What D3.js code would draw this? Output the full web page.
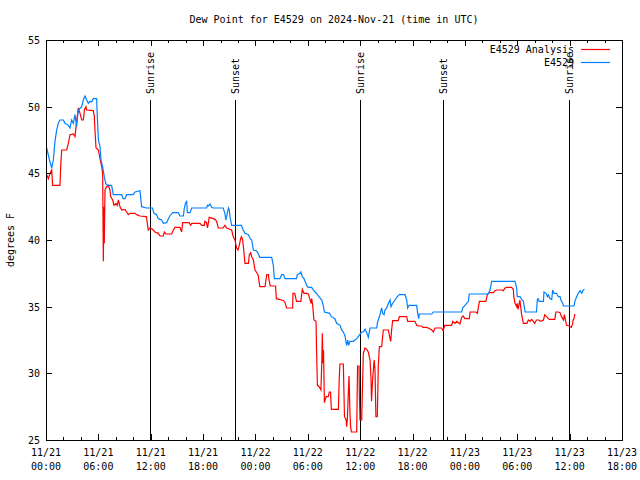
<!DOCTYPE html>
<html><head><meta charset="utf-8">
<script src="https://cdn.jsdelivr.net/npm/d3@7"></script>
<style>
body{margin:0;background:#fff;}
text{font-family:"DejaVu Sans Mono","Liberation Mono",monospace;font-size:10px;fill:#000;}
</style></head>
<body><svg id="chart" width="640" height="480"></svg>
<script>
// ---- data (hours since 2024-11-21 00:00 UTC, dew point °F) ----
const startTime = "2024-11-21T00:00:00Z";
const endTime = "2024-11-23T18:00:00Z";
const titleText = "Dew Point for E4529 on 2024-Nov-21 (time in UTC)";
const yLabel = "degrees F";
const seriesNames = ["E4529 Analysis", "E4529"];
const seriesColors = ["#ff0000", "#0080ff"];
const yTicks = [25, 30, 35, 40, 45, 50, 55];
const xTickHours = [0, 6, 12, 18, 24, 30, 36, 42, 48, 54, 60, 66];
const xTickLabels = [["11/21","00:00"],["11/21","06:00"],["11/21","12:00"],["11/21","18:00"],
  ["11/22","00:00"],["11/22","06:00"],["11/22","12:00"],["11/22","18:00"],
  ["11/23","00:00"],["11/23","06:00"],["11/23","12:00"],["11/23","18:00"]];
const xMinorHours = [2,4,8,10,14,16,20,22,26,28,32,34,38,40,44,46,50,52,56,58,62,64];
const sunEvents = ["Sunrise","Sunset","Sunrise","Sunset","Sunrise"];
const sunHours = [11.93, 21.6, 35.95, 45.53, 59.97];

const analysisHours = [0.08,0.27,0.46,0.65,0.76,1.6,1.68,1.8,2.37,2.56,2.75,3.13,3.32,3.51,3.7,3.9,4.09,4.28,4.4,4.58,4.66,5.42,5.54,5.61,5.73,6.0,6.19,6.38,6.49,6.57,6.65,6.68,6.76,6.95,7.14,7.33,7.41,7.64,7.79,8.02,8.17,8.29,8.48,8.67,9.05,9.24,9.43,9.63,10.2,10.39,10.77,11.5,11.72,11.9,12.2,12.49,12.87,13.06,13.44,13.56,13.75,14.4,14.59,14.78,15.35,15.54,15.66,16.4,16.58,16.7,17.65,17.84,18.14,18.2,18.4,18.5,18.6,18.7,19.17,19.36,19.55,19.74,20.3,20.5,20.7,21.27,21.46,21.65,21.84,22.0,22.15,22.3,22.4,22.53,22.68,22.8,23.2,23.3,23.45,23.57,23.76,23.95,24.1,24.3,24.5,25.1,25.2,25.3,25.48,25.55,25.7,26.3,26.4,27.0,27.2,27.4,27.56,28.26,28.3,28.5,28.7,29.2,29.37,29.56,29.87,30.06,30.25,30.37,30.44,30.56,30.7,30.94,31.0,31.1,31.3,31.5,31.6,31.66,31.74,31.8,31.9,32.1,32.35,32.46,32.6,32.7,33.5,33.6,33.68,34.07,34.2,34.4,34.45,34.53,34.64,34.72,34.83,34.9,35.0,35.6,35.7,35.87,35.9,35.98,36.17,36.36,36.55,36.75,36.93,37.04,37.13,37.24,37.3,37.43,37.6,37.7,37.8,37.96,38.08,38.2,38.46,38.65,39.23,39.42,39.5,39.6,39.72,40.37,40.49,41.33,41.44,42.28,42.47,42.66,43.04,43.2,43.6,43.8,44.2,44.38,44.57,45.33,45.5,45.7,46.48,46.6,46.86,47.05,47.43,47.63,47.8,48.0,48.5,48.6,49.27,49.43,49.55,49.66,50.4,50.57,50.8,51.26,51.45,51.64,52.2,52.4,52.6,52.8,53.35,53.55,53.6,53.74,53.93,54.0,54.1,54.3,54.5,54.7,55.1,55.27,55.46,55.65,55.84,56.0,56.2,56.5,56.66,57.0,57.15,57.35,57.56,57.67,58.3,58.43,58.7,58.9,59.07,59.3,59.4,59.55,59.66,59.97,60.2,60.35,60.4,60.5,60.6];
const analysisValues = [44.9,44.6,45.0,45.25,44.1,44.1,45.5,46.75,46.75,47.25,47.9,47.95,47.75,48.9,49.9,49.5,49.0,49.0,49.75,50.0,49.75,49.7,49.25,48.25,46.9,46.75,46.1,45.5,45.0,38.4,42.5,39.75,43.75,44.0,44.1,43.75,43.25,43.0,42.6,42.75,42.6,43.0,42.5,42.25,42.3,42.1,41.9,42.0,42.0,41.9,41.8,41.75,40.75,40.9,40.8,40.6,40.5,40.3,40.3,40.6,40.45,40.45,40.75,40.95,40.95,40.6,41.3,41.3,41.1,41.25,41.25,41.1,41.1,41.4,41.3,40.9,41.25,41.7,41.6,41.55,41.4,40.9,40.9,41.1,40.9,40.75,40.25,40.0,39.4,39.25,39.6,40.1,40.25,40.0,39.1,38.25,38.25,38.9,39.05,38.75,38.5,37.75,37.6,37.4,36.5,36.5,37.0,37.4,37.4,37.0,36.55,36.55,35.6,35.5,35.45,35.3,34.9,34.9,36.0,36.0,35.4,35.4,36.3,36.0,36.0,35.95,35.55,35.25,35.6,35.1,34.0,33.9,31.75,29.1,29.0,28.75,30.75,33.0,30.75,31.75,27.8,28.25,28.25,28.6,28.6,27.3,27.3,29.6,30.7,30.7,26.75,26.5,26.0,26.5,28.5,29.8,27.0,26.0,25.6,25.6,30.55,30.55,28.6,26.5,26.5,31.5,31.9,31.8,31.6,31.25,31.0,29.6,27.9,29.6,31.0,30.25,26.75,26.75,30.6,32.0,32.0,33.25,33.25,32.6,32.4,33.25,33.95,33.95,34.25,34.25,33.9,33.9,33.6,33.55,33.55,33.45,33.45,33.4,33.25,33.1,33.4,33.4,33.2,33.6,33.6,33.9,33.75,33.9,33.7,34.2,34.3,34.1,34.1,34.6,34.6,34.5,35.0,35.4,35.4,35.9,36.05,36.05,36.2,36.25,36.25,36.2,36.4,36.45,36.45,36.3,35.75,35.25,35.0,35.25,34.8,35.5,34.4,33.75,33.75,34.0,33.9,34.05,33.9,33.75,34.0,34.0,33.9,34.0,34.4,34.25,34.1,34.05,34.05,34.6,34.6,34.55,34.25,34.0,34.4,33.9,33.6,33.55,33.45,33.75,34.0,34.1,34.45];

const obsHours = [0.08,0.4,0.65,0.84,1.03,1.22,1.41,1.6,1.99,2.18,2.56,2.75,2.94,3.13,3.32,3.51,3.7,4.09,4.28,4.47,4.66,4.85,5.04,5.23,5.42,5.8,5.88,6.0,6.19,6.3,6.49,6.68,6.84,7.07,7.52,7.71,8.67,8.86,9.05,9.24,10.0,10.2,10.77,10.96,11.5,11.92,12.2,12.37,12.68,12.87,13.25,13.44,13.83,14.02,14.2,14.5,15.16,15.35,15.74,15.85,16.0,16.12,16.2,16.5,16.7,18.4,18.5,18.6,18.8,18.98,19.17,20.3,20.5,20.6,20.7,20.8,20.9,21.0,21.08,21.27,22.4,22.6,22.8,23.2,23.4,23.57,23.76,24.1,24.3,24.5,25.86,26.05,26.16,26.8,27.0,27.2,27.4,28.7,28.8,29.1,29.2,29.37,29.56,29.68,29.87,30.06,30.44,30.63,30.82,31.0,31.2,31.6,31.77,31.9,32.5,32.7,33.1,33.3,33.7,33.88,34.07,34.26,34.45,34.57,34.68,34.83,35.2,35.4,35.6,35.79,35.98,36.17,36.36,36.55,36.75,36.93,37.13,37.9,37.96,38.08,38.27,38.46,38.58,38.73,38.84,39.04,39.23,39.42,39.53,39.72,39.99,40.26,40.49,41.14,41.33,41.44,41.6,42.47,42.59,42.7,42.78,44.2,44.38,47.63,47.74,48.4,48.5,50.68,50.88,51.07,53.74,53.93,54.0,54.3,54.5,54.7,54.9,56.2,56.3,56.4,56.5,57.0,57.06,57.3,57.45,57.56,57.75,57.95,58.06,58.2,58.5,58.7,58.9,59.0,59.2,59.3,60.5,60.6,60.8,61.0,61.2,61.4,61.57,61.7];
const obsValues = [46.9,46.0,45.4,46.0,47.4,48.25,48.75,49.0,49.0,48.75,48.6,48.4,49.0,48.75,49.4,48.5,49.75,50.0,50.5,50.8,50.5,50.25,50.4,50.35,50.6,50.6,49.25,47.5,47.0,46.0,45.5,44.75,44.25,44.1,44.1,43.4,43.4,43.1,43.1,43.4,43.4,43.6,43.7,42.5,42.4,42.4,42.4,42.0,41.9,41.6,41.5,41.25,41.3,41.6,41.8,42.05,42.05,41.8,41.8,42.4,42.8,42.9,42.05,42.05,42.4,42.4,42.6,42.55,42.7,42.45,42.4,42.4,42.0,41.5,41.75,42.1,42.4,42.25,41.75,41.1,41.1,40.75,40.5,40.4,40.1,40.0,39.25,39.2,39.0,38.7,38.7,38.1,37.1,37.1,37.4,37.4,37.1,37.1,37.4,37.5,37.6,37.25,37.1,36.9,36.6,36.45,36.45,36.25,36.1,36.0,35.8,35.5,35.1,34.6,34.5,34.25,34.1,33.75,33.6,33.25,33.1,32.8,32.1,32.5,32.1,32.4,32.4,32.5,32.6,32.75,32.95,33.1,33.1,33.3,33.05,32.7,33.4,33.4,33.75,34.0,34.4,34.9,34.5,34.4,34.75,34.9,35.25,35.5,35.0,35.25,35.5,35.75,35.9,35.9,35.5,34.9,35.1,35.1,34.5,34.1,34.45,34.45,34.6,34.6,34.9,35.4,35.95,35.95,36.25,36.9,36.9,36.4,35.75,35.75,35.55,35.4,34.6,34.6,35.55,35.6,35.4,35.4,36.1,36.0,35.75,35.9,35.6,35.55,36.25,36.0,36.0,35.75,35.75,35.5,35.25,35.05,35.05,35.4,35.75,36.0,36.2,36.0,36.25,36.3];

// ---- drawing ----
const W = 640, H = 480;
const m = {left: 46, right: 622, top: 40, bottom: 440};
const t0 = new Date(startTime).getTime();
const toDate = h => new Date(t0 + h * 3600000);

const svg = d3.select("#chart");
svg.append("rect").attr("width", W).attr("height", H).attr("fill", "#fff");

const x = d3.scaleUtc().domain([new Date(startTime), new Date(endTime)]).range([m.left, m.right]);
const y = d3.scaleLinear().domain([25, 55]).range([m.bottom, m.top]);

// title
svg.append("text").attr("x", (m.left + m.right) / 2).attr("y", 23)
  .attr("text-anchor", "middle").text(titleText);

// y label
svg.append("text").attr("transform", `translate(14,${(m.top + m.bottom) / 2}) rotate(-90)`)
  .attr("text-anchor", "middle").text(yLabel);

// axes
const gL = svg.append("g").attr("transform", `translate(${m.left},0)`)
  .call(d3.axisLeft(y).tickValues(yTicks).tickSize(-6).tickPadding(6).tickFormat(d3.format("d")));
const gR = svg.append("g").attr("transform", `translate(${m.right},0)`)
  .call(d3.axisRight(y).tickValues(yTicks).tickSize(-6).tickFormat(""));
const gB = svg.append("g").attr("transform", `translate(0,${m.bottom})`)
  .call(d3.axisBottom(x).tickValues(xTickHours.map(toDate)).tickSize(-6).tickFormat(""));
const gBm = svg.append("g").attr("transform", `translate(0,${m.bottom})`)
  .call(d3.axisBottom(x).tickValues(xMinorHours.map(toDate)).tickSize(-3).tickFormat(""));
const gT = svg.append("g").attr("transform", `translate(0,${m.top})`)
  .call(d3.axisTop(x).tickValues(xTickHours.map(toDate)).tickSize(-6).tickFormat(""));
const gTm = svg.append("g").attr("transform", `translate(0,${m.top})`)
  .call(d3.axisTop(x).tickValues(xMinorHours.map(toDate)).tickSize(-3).tickFormat(""));
[gL, gR, gB, gBm, gT, gTm].forEach(g => {
  g.select(".domain").remove();
  g.selectAll("line").attr("stroke", "#000").attr("shape-rendering", "crispEdges");
  g.selectAll("text").attr("font-family", null).attr("font-size", null).attr("fill", "#000");
});
gL.selectAll("text").attr("dy", "0.35em");

// x tick labels (two lines)
const xl = svg.append("g");
xTickHours.forEach((h, i) => {
  const t = xl.append("text").attr("text-anchor", "middle");
  t.append("tspan").attr("x", x(toDate(h))).attr("y", 456).text(xTickLabels[i][0]);
  t.append("tspan").attr("x", x(toDate(h))).attr("y", 470).text(xTickLabels[i][1]);
});

// sunrise / sunset lines
sunHours.forEach((h, i) => {
  const xp = Math.round(x(toDate(h))) + 0.5;
  svg.append("line").attr("x1", xp).attr("x2", xp).attr("y1", 100).attr("y2", m.bottom)
    .attr("stroke", "#000").attr("shape-rendering", "crispEdges");
  svg.append("text").attr("transform", `translate(${xp},94) rotate(-90)`)
    .attr("dy", "0.35em").attr("text-anchor", "start").text(sunEvents[i]);
});

// series
const line = d3.line().x(d => x(toDate(d[0]))).y(d => y(d[1]));
const seriesData = [
  analysisHours.map((h, i) => [h, analysisValues[i]]),
  obsHours.map((h, i) => [h, obsValues[i]])
];
seriesData.forEach((data, i) => {
  svg.append("path").datum(data).attr("d", line).attr("fill", "none")
    .attr("stroke", seriesColors[i]).attr("stroke-width", 1.2);
});

// frame
svg.append("rect").attr("x", m.left + 0.5).attr("y", m.top + 0.5)
  .attr("width", m.right - m.left).attr("height", m.bottom - m.top)
  .attr("fill", "none").attr("stroke", "#000").attr("shape-rendering", "crispEdges");

// legend
seriesNames.forEach((name, i) => {
  const yy = 49 + i * 13;
  svg.append("text").attr("x", 574).attr("y", yy).attr("dy", "0.35em")
    .attr("text-anchor", "end").text(name);
  svg.append("line").attr("x1", 581).attr("x2", 610).attr("y1", yy + 0.5).attr("y2", yy + 0.5)
    .attr("stroke", seriesColors[i]).attr("stroke-width", 1.2);
});
</script></body></html>
